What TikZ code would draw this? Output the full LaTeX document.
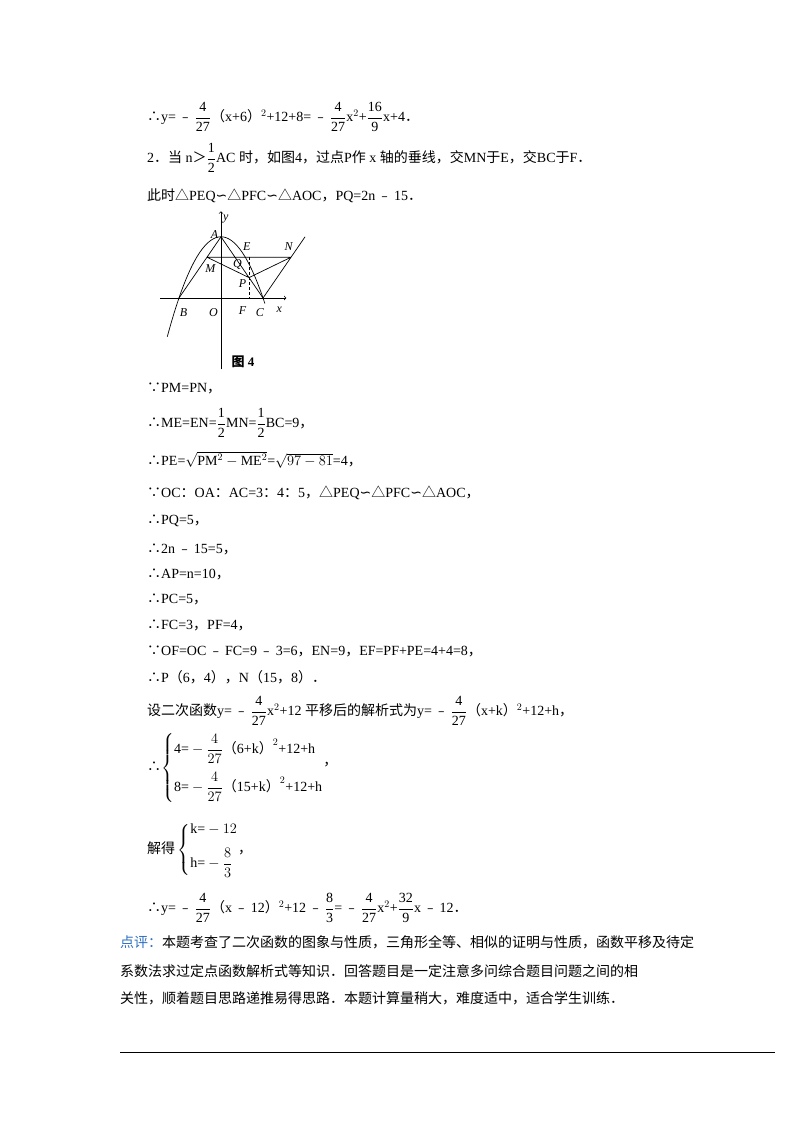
\documentclass[tikz,border=0pt]{standalone}
\usepackage{amsmath}
\usepackage{fontspec}
\setmainfont{Liberation Serif}
\newfontfamily\cjk{Noto Sans CJK SC}
\newfontfamily\djv{DejaVu Sans}
\newcommand{\sm}{{\djv ∽}}
\newcommand{\tf}{{\cjk ∴}}
\newcommand{\bc}{{\cjk ∵}}
\newcommand{\tri}{{\cjk △}}
\newcommand{\mn}{\,{\cjk ﹣}\,}
\newcommand{\lp}{{\cjk （}}
\newcommand{\rp}{{\cjk ）}}
\newcommand{\pd}{{\cjk ．}}
\newcommand{\fr}[2]{$\dfrac{\text{#1}}{\text{#2}}$}
\begin{document}
\begin{tikzpicture}[x=1pt,y=-1pt,
  tl/.style={anchor=west,inner sep=0pt,font=\fontsize{14}{16}\selectfont},
  lab/.style={font=\fontsize{12}{12}\selectfont\itshape,inner sep=0pt},
  ln/.style={line width=0.7pt}]
\useasboundingbox (0,0) rectangle (800,1132);
\node[tl] (l1) at (147,117) {\tf y=\mn\fr{4}{27}\lp x+6\rp$^{2}$+12+8=\mn\fr{4}{27}x$^2$+\fr{16}{9}x+4\pd};
\node[tl] (l2) at (147,158) {2\pd{\cjk 当} n{\cjk ＞}\fr{1}{2}AC {\cjk 时，如图}4{\cjk ，过点}P{\cjk 作} x {\cjk 轴的垂线，交}MN{\cjk 于}E{\cjk ，交}BC{\cjk 于}F\pd};
\node[tl] (l3) at (147,196) {{\cjk 此时}\tri PEQ\sm\tri PFC\sm\tri AOC{\cjk ，}PQ=2n\mn 15\pd};
% figure
\begin{scope}[shift={(221,298)},x=4.67pt,y=5.1pt]
\draw[ln,->] (-13,0) -- (14,0) coordinate (xe);
\draw[ln,->] (0,-14) -- (0,17) coordinate (ye);
\draw[ln] plot[domain=-11.5:9.4,samples=60] (\x,{12-4/27*\x*\x});
\coordinate (A) at (0,12); \coordinate (B) at (-9,0); \coordinate (C) at (9,0);
\coordinate (M) at (-3,8); \coordinate (N) at (15,8); \coordinate (E) at (6,8);
\coordinate (P) at (6,4); \coordinate (F) at (6,0); \coordinate (T) at (18,12);
\draw[ln] (A)--(B) (A)--(C) (M)--(N) (M)--(P)--(N) (C)--(T);
\draw[line width=0.5pt,densely dashed] (E)--(F);
\node[lab] at (1,15.5) {y}; \node[lab] at (-1.4,12.5) {A};
\node[lab] at (5.5,10) {E}; \node[lab] at (14.5,10) {N};
\node[lab] at (-2.3,5.8) {M}; \node[lab] at (3.5,6.5) {Q};
\node[lab] at (4.6,2.8) {P}; \node[lab] at (-8,-2.8) {B};
\node[lab] at (-1.6,-2.8) {O}; \node[lab] at (4.6,-2.4) {F};
\node[lab] at (8.3,-2.8) {C}; \node[lab] at (12.5,-2.3) {x};
\end{scope}
\node[font=\fontsize{13}{13}\selectfont\bfseries,inner sep=0pt] (cap) at (243,362) {{\cjk 图} 4};
\node[tl] at (147,388) {\bc PM=PN{\cjk ，}};
\node[tl] at (147,423) {\tf ME=EN=\fr{1}{2}MN=\fr{1}{2}BC=9{\cjk ，}};
\node[tl] at (147,460) {\tf PE=$\sqrt{\text{PM}^2-\text{ME}^2}$=$\sqrt{97-81}$=4{\cjk ，}};
\node[tl] at (147,493) {\bc OC{\cjk ：}OA{\cjk ：}AC=3{\cjk ：}4{\cjk ：}5{\cjk ，}\tri PEQ\sm\tri PFC\sm\tri AOC{\cjk ，}};
\node[tl] at (147,521) {\tf PQ=5{\cjk ，}};
\node[tl] at (147,549) {\tf 2n\mn 15=5{\cjk ，}};
\node[tl] at (147,574) {\tf AP=n=10{\cjk ，}};
\node[tl] at (147,599) {\tf PC=5{\cjk ，}};
\node[tl] at (147,625) {\tf FC=3{\cjk ，}PF=4{\cjk ，}};
\node[tl] at (147,651) {\bc OF=OC\mn FC=9\mn 3=6{\cjk ，}EN=9{\cjk ，}EF=PF+PE=4+4=8{\cjk ，}};
\node[tl] at (147,677) {\tf P\lp 6{\cjk ，}4{\cjk ），}N\lp 15{\cjk ，}8\rp\pd};
\node[tl] at (147,711) {{\cjk 设二次函数}y=\mn\fr{4}{27}x$^2$+12 {\cjk 平移后的解析式为}y=\mn\fr{4}{27}\lp x+k\rp$^2$+12+h{\cjk ，}};
\node[tl] at (147,768) {\tf$\left\{\begin{array}{@{}l@{}}\text{4=}-\dfrac{4}{27}\text{\lp 6+k\rp}^{2}\text{+12+h}\\[14pt]\text{8=}-\dfrac{4}{27}\text{\lp 15+k\rp}^{2}\text{+12+h}\end{array}\right.$\raisebox{6pt}{\cjk ，}};
\node[tl] at (147,850) {{\cjk 解得}\,$\left\{\begin{array}{@{}l@{}}\text{k=}-12\\[10pt]\text{h=}-\dfrac{8}{3}\end{array}\right.${\cjk ，}};
\node[tl] at (147,908) {\tf y=\mn\fr{4}{27}\lp x\mn 12\rp$^2$+12\mn\fr{8}{3}=\mn\fr{4}{27}x$^2$+\fr{32}{9}x\mn 12\pd};
\node[tl] at (120,942) {{\cjk\color[HTML]{2E6FC0}点评：}{\cjk 本题考查了二次函数的图象与性质，三角形全等、相似的证明与性质，函数平移及待定}};
\node[tl] at (120,971) {{\cjk 系数法求过定点函数解析式等知识．回答题目是一定注意多问综合题目问题之间的相}};
\node[tl] at (120,998) {{\cjk 关性，顺着题目思路递推易得思路．本题计算量稍大，难度适中，适合学生训练．}};
\draw[line width=0.8pt] (120,1052) -- (775,1052);
\end{tikzpicture}
\end{document}
